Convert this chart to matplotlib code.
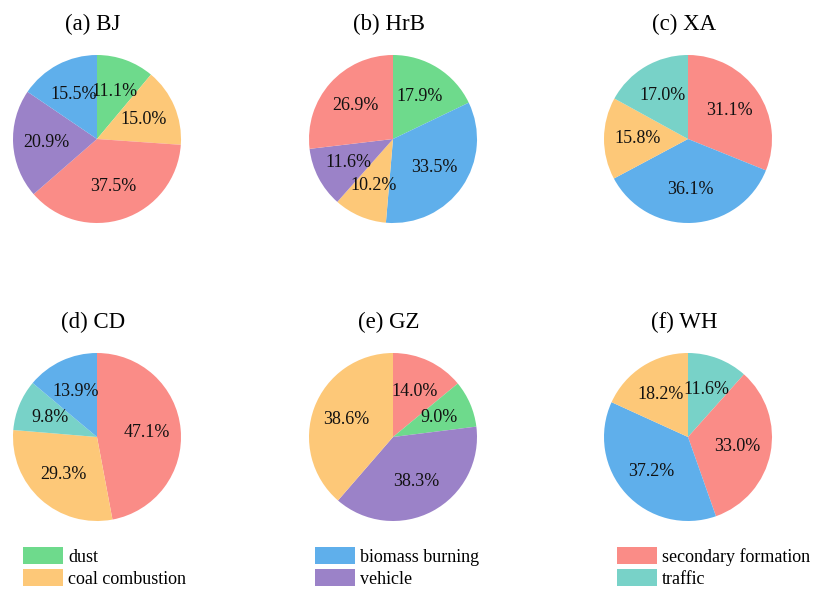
import matplotlib
matplotlib.use('Agg')
import matplotlib.pyplot as plt
from matplotlib.patches import Patch

plt.rcParams['font.family'] = ['Liberation Serif', 'DejaVu Serif']

sources = ['dust', 'coal combustion', 'biomass burning', 'vehicle',
           'secondary formation', 'traffic']
colors = {'dust': '#6EDA8C', 'coal combustion': '#FDC878',
          'biomass burning': '#5FAFEB', 'vehicle': '#9B82C8',
          'secondary formation': '#FA8C87', 'traffic': '#78D2C8'}

titles = ['(a) BJ', '(b) HrB', '(c) XA', '(d) CD', '(e) GZ', '(f) WH']

# source contributions per city, clockwise from 12 o'clock
bj_src = ['dust', 'coal combustion', 'secondary formation', 'vehicle', 'biomass burning']
bj_val = [11.1, 15.0, 37.5, 20.9, 15.5]
hrb_src = ['dust', 'biomass burning', 'coal combustion', 'vehicle', 'secondary formation']
hrb_val = [17.9, 33.5, 10.2, 11.6, 26.9]
xa_src = ['secondary formation', 'biomass burning', 'coal combustion', 'traffic']
xa_val = [31.1, 36.1, 15.8, 17.0]
cd_src = ['secondary formation', 'coal combustion', 'traffic', 'biomass burning']
cd_val = [47.1, 29.3, 9.8, 13.9]
gz_src = ['secondary formation', 'dust', 'vehicle', 'coal combustion']
gz_val = [14.0, 9.0, 38.3, 38.6]
wh_src = ['traffic', 'secondary formation', 'biomass burning', 'coal combustion']
wh_val = [11.6, 33.0, 37.2, 18.2]

cities = [(bj_src, bj_val), (hrb_src, hrb_val), (xa_src, xa_val),
          (cd_src, cd_val), (gz_src, gz_val), (wh_src, wh_val)]

W, H = 814, 598
fig = plt.figure(figsize=(W / 100, H / 100), dpi=100)

# pie centres in pixels (from top-left) and radius
centres = [(97, 139), (393, 139), (688, 139), (97, 437), (393, 437), (688, 437)]
r = 84

for (cx, cy), title, (src, val) in zip(centres, titles, cities):
    ax = fig.add_axes([(cx - r) / W, 1 - (cy + r) / H, 2 * r / W, 2 * r / H])
    ax.pie(val, colors=[colors[s] for s in src], startangle=90,
           counterclock=False, radius=1, pctdistance=0.6,
           autopct=lambda p: '%.1f%%' % p,
           textprops={'fontsize': 13, 'color': '#111111'})
    ax.set_xlim(-1.0, 1.0)
    ax.set_ylim(-1.0, 1.0)
    ax.set_title(title, fontsize=16.5, pad=18, x=0.5 - 4 / (2 * r))

# legend in three columns of two entries
cols = [(['dust', 'coal combustion'], 23),
        (['biomass burning', 'vehicle'], 315),
        (['secondary formation', 'traffic'], 617)]
for names, x0 in cols:
    handles = [Patch(facecolor=colors[n], edgecolor='none', label=n) for n in names]
    fig.legend(handles=handles, loc='upper left',
               bbox_to_anchor=(x0 / W, 1 - 547 / H), frameon=False,
               fontsize=13, handlelength=2.2, handleheight=1.05,
               handletextpad=0.3, labelspacing=0.2, borderpad=0,
               borderaxespad=0)

fig.savefig('out.png', dpi=100, facecolor='white')
